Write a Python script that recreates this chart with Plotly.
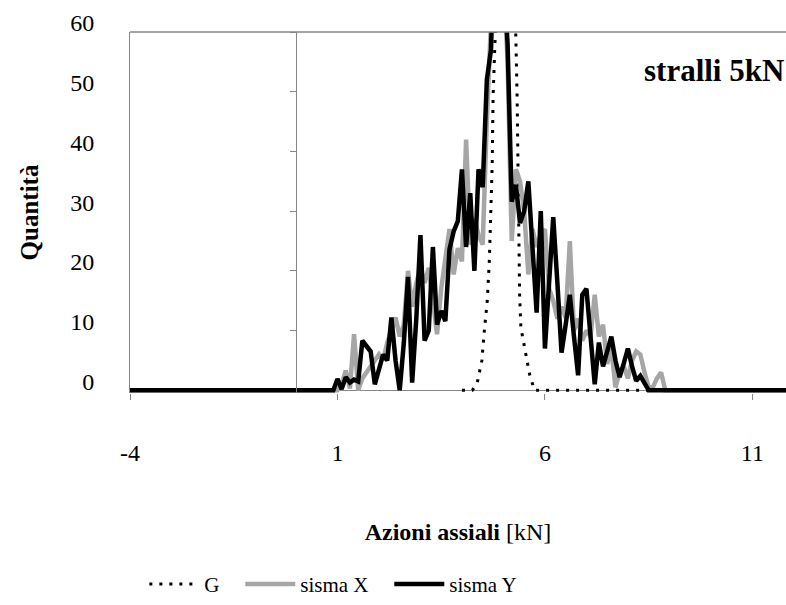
import plotly.graph_objects as go

# ---- data ----
g_x = [4.0, 4.25, 4.37, 4.42, 4.48, 4.54, 4.61, 4.66, 4.70, 4.73, 4.75, 4.78, 4.85,
       5.05, 5.25, 5.31, 5.33, 5.35, 5.37, 5.39, 5.42, 5.49, 5.57, 5.63, 5.69, 5.75, 8.7]
g_y = [0, 0, 1.3, 3, 5, 10, 15, 21.7, 29.4, 38, 49, 58, 75,
       110, 75, 58, 49, 38, 27, 16, 10.5, 7.7, 4.4, 2.7, 1.3, 0, 0]

bins = [-4.0, 0.9, 1.0, 1.1, 1.2, 1.3, 1.4, 1.5, 1.6, 1.7, 1.8, 1.9, 2.0, 2.1, 2.2, 2.3,
        2.4, 2.5, 2.6, 2.7, 2.8, 2.9, 3.0, 3.1, 3.2, 3.3, 3.4, 3.5, 3.6, 3.7, 3.8,
        3.9, 4.0, 4.1, 4.2, 4.3, 4.4, 4.5, 4.6, 4.7, 4.8, 4.9, 5.0, 5.1, 5.2, 5.3,
        5.4, 5.5, 5.6, 5.7, 5.8, 5.9, 6.0, 6.1, 6.2, 6.3, 6.4, 6.5, 6.6, 6.7, 6.8,
        6.9, 7.0, 7.1, 7.2, 7.3, 7.4, 7.5, 7.6, 7.7, 7.8, 7.9, 8.0, 8.1, 8.2, 8.3,
        8.4, 8.5, 8.6, 8.7, 8.8, 8.9, 12.0]

sisma_x = [0, 0, 0, 1, 3.3, 0.3, 9.4, 0, 2, 3, 4, 5, 6, 5, 8, 10,
           12.2, 9, 11, 20, 14, 18, 20.5, 18, 20.5, 15, 9.4, 17, 22, 27, 19.4,
           23.8, 21.6, 42, 24.4, 28.8, 26, 24.4, 45, 70, 90, 95, 70, 55, 25, 37,
           35, 30, 19.4, 27, 24, 26, 27, 17, 15, 12, 14, 12.2, 25, 10, 12,
           8.3, 10, 9, 16, 9, 11, 4.4, 7, 0.5, 3, 4, 2, 5, 6.5, 6,
           3, 0.5, 0.5, 2, 3, 0, 0]

sisma_y = [0, 0, 1.9, 0.2, 2.2, 1.3, 1.8, 1.5, 8.3, 7.5, 6.5, 1.0, 3.5, 6, 5, 12.2,
           5, 0, 8, 19, 1.3, 12, 26, 8.3, 10, 24, 11, 13.3, 11.6, 23.6, 26.6,
           28.3, 37, 24, 33, 20, 37, 34, 52, 57, 80, 90, 70, 58, 31.6, 34.4,
           28, 30, 35, 24, 13, 30, 7, 18, 29, 18, 6.3, 11, 16, 9, 2.5,
           16, 17, 9, 1, 8, 4, 6.5, 9, 5, 2.2, 4.5, 7, 4, 1.6, 2.4,
           1, 0, 0, 0, 0, 0, 0]

x_ticks = [-4, 1, 6, 11]
y_ticks = [0, 10, 20, 30, 40, 50, 60]

FONT = "Liberation Serif"
AXIS_GRAY = "#868686"
X_RANGE = [-4, 11.81]
Y_RANGE = [-0.45, 60]
PAD = "&nbsp;" * 3

fig = go.Figure()
fig.add_trace(go.Scatter(x=g_x, y=g_y, mode="lines", name="G" + PAD,
                         line=dict(color="black", width=3, dash="3px,7px")))
fig.add_trace(go.Scatter(x=bins, y=sisma_x, mode="lines", name="sisma X" + PAD,
                         line=dict(color="#A6A6A6", width=4.5)))
fig.add_trace(go.Scatter(x=bins, y=sisma_y, mode="lines", name="sisma Y",
                         line=dict(color="black", width=4.5)))
# invisible trace to carry the secondary (x=0) y axis
fig.add_trace(go.Scatter(x=[None], y=[None], yaxis="y2", showlegend=False,
                         hoverinfo="skip"))

pos0 = (0 - X_RANGE[0]) / (X_RANGE[1] - X_RANGE[0])

fig.update_layout(
    width=786, height=605,
    margin=dict(l=130, r=0, t=32, b=212),
    paper_bgcolor="white", plot_bgcolor="white",
    font=dict(family=FONT, size=24, color="black"),
    showlegend=True,
    legend=dict(orientation="h", x=0.31, xanchor="center", y=-0.53, yanchor="middle",
                font=dict(family=FONT, size=21), itemwidth=50),
    xaxis=dict(range=X_RANGE, tickmode="array", tickvals=x_ticks,
               ticktext=[str(v) for v in x_ticks],
               showgrid=False, zeroline=False, showline=False,
               ticks="outside", ticklen=6, tickcolor=AXIS_GRAY,
               ticklabelstandoff=32, tickfont=dict(size=24),
               title=dict(text="<b>Azioni assiali</b> [kN]", standoff=58,
                          font=dict(family=FONT, size=24))),
    yaxis=dict(range=Y_RANGE, tickmode="array", tickvals=y_ticks,
               showgrid=False, zeroline=True, zerolinecolor=AXIS_GRAY, zerolinewidth=1,
               showline=True, linecolor=AXIS_GRAY, linewidth=1,
               ticks="", ticklabelstandoff=30, ticklabelshift=-9,
               tickfont=dict(size=24),
               title=dict(text="<b>Quantità</b>", standoff=24,
                          font=dict(family=FONT, size=25))),
    yaxis2=dict(range=Y_RANGE, overlaying="y", anchor="free", position=pos0,
                side="left", showgrid=False, zeroline=False,
                showline=True, linecolor=AXIS_GRAY, linewidth=1,
                tickmode="array", tickvals=y_ticks[1:], ticks="outside",
                ticklen=6, tickcolor=AXIS_GRAY, showticklabels=False),
    shapes=[dict(type="line", xref="paper", yref="paper", x0=0, x1=1, y0=1, y1=1,
                 line=dict(color=AXIS_GRAY, width=1.5))],
    annotations=[dict(text="<b>stralli 5kN</b>", xref="paper", yref="paper",
                      x=1.0, y=0.893, xanchor="right", yanchor="middle",
                      showarrow=False, font=dict(family=FONT, size=31))],
)

fig.write_html("out.html")
